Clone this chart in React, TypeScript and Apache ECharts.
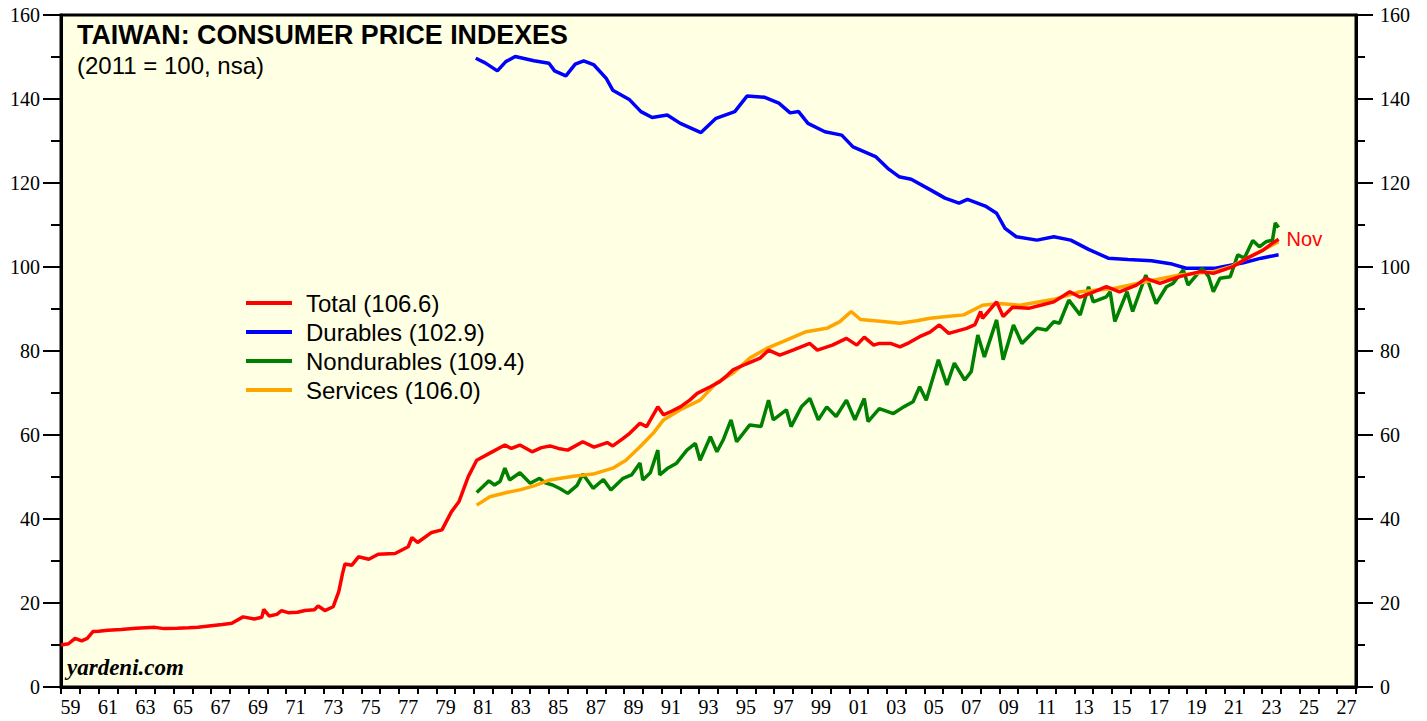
import React, { useEffect, useRef } from "react";
import * as echarts from "echarts";

const YEARS: string[] = [];
for (let y = 1959; y <= 2027; y++) YEARS.push(String(y % 100).padStart(2, "0"));

const TOTAL: [number, number][] = [
  [1959.0, 10.0], [1959.4, 10.3], [1959.75, 11.6], [1960.1, 11.0], [1960.4, 11.6], [1960.7, 13.2],
  [1961.0, 13.3], [1961.5, 13.5], [1962.2, 13.7], [1963.0, 14.0], [1963.5, 14.1], [1964.0, 14.2],
  [1964.5, 13.9], [1965.2, 14.0], [1965.8, 14.1], [1966.3, 14.2], [1967.0, 14.6], [1967.6, 14.9],
  [1968.1, 15.2], [1968.7, 16.7], [1969.3, 16.2], [1969.7, 16.6], [1969.8, 18.5], [1970.1, 16.9],
  [1970.5, 17.3], [1970.75, 18.2], [1971.1, 17.7], [1971.6, 17.8], [1972.0, 18.2], [1972.5, 18.4],
  [1972.7, 19.3], [1973.06, 18.2], [1973.5, 19.1], [1973.8, 22.7], [1974.0, 27.0], [1974.13, 29.3],
  [1974.5, 29.0], [1974.85, 31.0], [1975.4, 30.4], [1975.9, 31.6], [1976.8, 31.8], [1977.5, 33.4],
  [1977.7, 35.6], [1978.0, 34.4], [1978.75, 36.8], [1979.3, 37.4], [1979.8, 41.7], [1980.2, 44.1],
  [1980.7, 50.1], [1981.15, 54.0], [1981.9, 55.8], [1982.65, 57.6], [1983.0, 56.8], [1983.45, 57.6],
  [1984.1, 56.0], [1984.6, 57.0], [1985.05, 57.4], [1985.5, 56.8], [1986.0, 56.4], [1986.8, 58.4],
  [1987.4, 57.1], [1988.1, 58.2], [1988.4, 57.4], [1988.9, 59.0], [1989.3, 60.4], [1989.85, 62.8],
  [1990.2, 62.0], [1990.8, 66.7], [1991.1, 64.8], [1991.5, 65.6], [1992.0, 66.7], [1992.5, 68.3],
  [1992.9, 69.9], [1993.6, 71.5], [1994.1, 72.7], [1994.5, 74.2], [1994.8, 75.5], [1995.5, 76.9],
  [1996.25, 78.3], [1996.7, 80.2], [1997.3, 79.0], [1998.0, 80.2], [1998.9, 81.8], [1999.3, 80.2],
  [2000.1, 81.4], [2000.85, 83.0], [2001.4, 81.4], [2001.8, 83.3], [2002.3, 81.4], [2002.6, 81.8],
  [2003.2, 81.8], [2003.7, 81.0], [2004.2, 82.0], [2004.75, 83.4], [2005.3, 84.5], [2005.8, 86.2],
  [2006.3, 84.2], [2007.25, 85.4], [2007.7, 86.3], [2008.0, 89.4], [2008.1, 87.8], [2008.85, 91.7],
  [2009.2, 88.2], [2009.7, 90.4], [2010.6, 90.2], [2011.3, 91.0], [2011.9, 91.7], [2012.75, 94.1],
  [2013.3, 92.8], [2014.0, 94.0], [2014.7, 95.3], [2015.4, 94.1], [2016.3, 95.7], [2016.8, 97.3],
  [2017.55, 96.1], [2018.6, 97.7], [2019.7, 98.9], [2020.4, 98.5], [2021.45, 100.1], [2022.2, 102.1],
  [2023.05, 104.0], [2023.5, 105.5], [2023.875, 106.6],
];

const DURABLES: [number, number][] = [
  [1981.1, 149.7], [1981.6, 148.6], [1982.25, 146.7], [1982.7, 148.9], [1983.2, 150.1], [1984.2, 149.1],
  [1985.0, 148.5], [1985.3, 146.7], [1985.9, 145.5], [1986.4, 148.3], [1986.85, 149.1], [1987.4, 148.1],
  [1988.05, 144.9], [1988.4, 142.1], [1989.3, 139.8], [1989.9, 137.0], [1990.5, 135.6], [1991.3, 136.2],
  [1992.0, 134.2], [1993.1, 132.0], [1993.9, 135.4], [1994.9, 137.0], [1995.55, 140.7], [1996.5, 140.4],
  [1997.25, 139.0], [1997.85, 136.7], [1998.3, 137.0], [1998.8, 134.2], [1999.7, 132.2], [2000.6, 131.4],
  [2001.2, 128.6], [2002.4, 126.3], [2003.05, 123.5], [2003.65, 121.5], [2004.3, 120.9], [2005.35, 118.3],
  [2006.1, 116.4], [2006.85, 115.2], [2007.3, 116.1], [2008.25, 114.5], [2008.85, 112.8], [2009.3, 109.2],
  [2009.9, 107.2], [2011.0, 106.4], [2011.9, 107.2], [2012.8, 106.4], [2013.75, 104.2], [2014.8, 102.1],
  [2015.85, 101.8], [2017.1, 101.5], [2018.2, 100.7], [2018.95, 99.7], [2020.5, 99.7], [2022.0, 101.0],
  [2022.95, 102.1], [2023.4, 102.5], [2023.875, 102.9],
];

const NONDURABLES: [number, number][] = [
  [1981.15, 46.3], [1981.5, 47.8], [1981.8, 49.1], [1982.1, 48.1], [1982.4, 49.0], [1982.65, 52.1],
  [1982.9, 49.3], [1983.45, 51.0], [1984.0, 48.5], [1984.5, 49.7], [1984.8, 48.6], [1985.2, 48.1],
  [1985.6, 47.2], [1986.0, 46.1], [1986.5, 48.0], [1986.8, 50.7], [1987.35, 47.3], [1987.9, 49.4],
  [1988.3, 46.9], [1988.95, 49.7], [1989.4, 50.5], [1989.85, 53.3], [1990.0, 49.3], [1990.4, 51.0],
  [1990.8, 56.4], [1990.9, 50.5], [1991.3, 52.0], [1991.8, 53.3], [1992.35, 56.4], [1992.8, 58.0],
  [1993.05, 54.0], [1993.6, 59.6], [1993.95, 56.0], [1994.3, 59.0], [1994.7, 63.6], [1995.0, 58.4],
  [1995.7, 62.4], [1996.3, 62.0], [1996.7, 68.3], [1996.95, 63.6], [1997.65, 66.0], [1997.9, 62.0],
  [1998.45, 66.7], [1998.9, 68.7], [1999.35, 63.6], [1999.8, 66.7], [2000.3, 64.4], [2000.85, 68.3],
  [2001.3, 63.6], [2001.8, 68.7], [2002.0, 63.2], [2002.6, 66.3], [2003.35, 65.1], [2003.9, 66.7],
  [2004.4, 67.9], [2004.75, 71.5], [2005.1, 68.3], [2005.75, 77.9], [2006.2, 71.9], [2006.6, 77.1],
  [2007.15, 73.1], [2007.5, 75.1], [2007.85, 83.8], [2008.2, 78.6], [2008.85, 87.4], [2009.2, 77.9],
  [2009.75, 86.2], [2010.2, 81.8], [2011.0, 85.4], [2011.5, 85.0], [2011.9, 87.0], [2012.2, 86.6],
  [2012.7, 92.1], [2013.3, 88.6], [2013.75, 95.3], [2014.0, 91.7], [2014.7, 92.9], [2014.9, 94.1],
  [2015.15, 87.0], [2015.8, 94.1], [2016.1, 89.4], [2016.8, 98.1], [2017.35, 91.3], [2017.9, 95.3],
  [2018.25, 96.1], [2018.8, 99.3], [2019.05, 95.7], [2019.8, 99.7], [2020.15, 97.7], [2020.4, 94.1],
  [2020.75, 97.3], [2021.3, 97.7], [2021.7, 102.9], [2022.05, 102.1], [2022.5, 106.3], [2022.85, 104.8],
  [2023.2, 106.0], [2023.55, 106.4], [2023.7, 110.5], [2023.875, 109.4],
];

const SERVICES: [number, number][] = [
  [1981.15, 43.3], [1981.85, 45.3], [1982.75, 46.3], [1983.5, 47.0], [1984.2, 47.9], [1985.05, 49.3],
  [1986.3, 50.2], [1987.35, 50.7], [1988.4, 52.1], [1989.1, 54.0], [1989.85, 57.2], [1990.55, 60.4],
  [1991.1, 63.6], [1992.0, 66.0], [1993.05, 68.3], [1993.9, 72.3], [1994.8, 74.7], [1995.7, 78.3],
  [1996.6, 80.6], [1997.65, 82.6], [1998.7, 84.6], [1999.8, 85.4], [2000.5, 87.0], [2001.1, 89.4],
  [2001.6, 87.5], [2002.8, 87.0], [2003.7, 86.6], [2004.6, 87.2], [2005.3, 87.8], [2006.2, 88.2],
  [2007.1, 88.6], [2008.1, 90.9], [2009.0, 91.3], [2010.1, 90.9], [2011.0, 91.6], [2011.9, 92.3],
  [2013.3, 94.1], [2015.1, 94.9], [2016.8, 96.5], [2018.6, 98.1], [2020.4, 98.9], [2021.4, 100.2],
  [2022.2, 102.1], [2023.0, 104.0], [2023.875, 106.0],
];

const SERIES_NAMES = ["Total (106.6)", "Durables (102.9)", "Nondurables (109.4)", "Services (106.0)"];
const SERIES_COLORS = ["#FF0000", "#0000FF", "#008000", "#FFA500"];
const SERIES_DATA = [TOTAL, DURABLES, NONDURABLES, SERVICES];
const Y_TICKS = { min: 0, max: 160, interval: 20 };

const SANS = "'Liberation Sans', Arial, sans-serif";
const SERIF = "'Liberation Serif', 'Times New Roman', serif";

export default function App() {
  const ref = useRef<HTMLDivElement>(null);
  useEffect(() => {
    if (!ref.current) return;
    const chart = echarts.init(ref.current, null, { renderer: "svg" });
    const yAxisBase = (pos: "left" | "right", tickLen: number, minorLen: number, margin: number) => ({
      type: "value",
      position: pos,
      min: Y_TICKS.min,
      max: Y_TICKS.max,
      interval: Y_TICKS.interval,
      splitLine: { show: false },
      axisLine: { show: true, lineStyle: { color: "#000", width: 3 } },
      axisTick: { show: true, length: tickLen, lineStyle: { color: "#000", width: 2 } },
      minorTick: { show: true, splitNumber: 2, length: minorLen, lineStyle: { color: "#000", width: 2 } },
      axisLabel: { margin, color: "#000", fontFamily: SERIF, fontSize: 20 },
    });
    chart.setOption({
      animation: false,
      backgroundColor: "#fff",
      grid: {
        left: 61,
        right: 71,
        top: 15,
        bottom: 34,
        show: true,
        backgroundColor: "#FFFFE3",
        borderColor: "#000",
        borderWidth: 3,
      },
      title: {
        text: "TAIWAN: CONSUMER PRICE INDEXES",
        subtext: "(2011 = 100, nsa)",
        left: 72,
        top: 16,
        itemGap: 5,
        textStyle: { fontFamily: SANS, fontSize: 26.8, fontWeight: "bold", color: "#000" },
        subtextStyle: { fontFamily: SANS, fontSize: 24, color: "#000" },
      },
      legend: {
        orient: "vertical",
        left: 241,
        top: 286,
        icon: "rect",
        itemWidth: 46,
        itemHeight: 4,
        itemGap: 5,
        data: SERIES_NAMES,
        textStyle: { fontFamily: SANS, fontSize: 24, lineHeight: 24, color: "#000", padding: [0, 0, 0, 9] },
      },
      xAxis: [
        {
          type: "category",
          data: YEARS,
          boundaryGap: true,
          position: "bottom",
          axisLine: { show: true, lineStyle: { color: "#000", width: 3 } },
          axisTick: { show: true, interval: 0, length: 7, lineStyle: { color: "#000", width: 2 } },
          axisLabel: { interval: 1, margin: 10, color: "#000", fontFamily: SERIF, fontSize: 20 },
          splitLine: { show: false },
        },
        { type: "value", min: 1959, max: 2028, show: false },
      ],
      yAxis: [yAxisBase("left", 18, 10, 21), yAxisBase("right", 17, 9, 24)],
      graphic: [
        {
          type: "text",
          left: 67,
          top: 656,
          style: {
            text: "yardeni.com",
            fontFamily: SERIF,
            fontSize: 23,
            fontWeight: "bold",
            fontStyle: "italic",
            fill: "#000",
          },
        },
      ],
      series: SERIES_NAMES.map((name, i) => ({
        name,
        type: "line",
        xAxisIndex: 1,
        yAxisIndex: 0,
        data: SERIES_DATA[i],
        showSymbol: false,
        z: i === 0 ? 5 : 3,
        lineStyle: { color: SERIES_COLORS[i], width: 3.5 },
        itemStyle: { color: SERIES_COLORS[i] },
        endLabel:
          i === 0
            ? { show: true, formatter: "Nov", color: "#FF0000", fontFamily: SANS, fontSize: 20, distance: 8 }
            : undefined,
      })),
    });
    return () => chart.dispose();
  }, []);
  return <div ref={ref} style={{ position: "fixed", left: 0, top: 0, width: 1427, height: 721 }} />;
}
